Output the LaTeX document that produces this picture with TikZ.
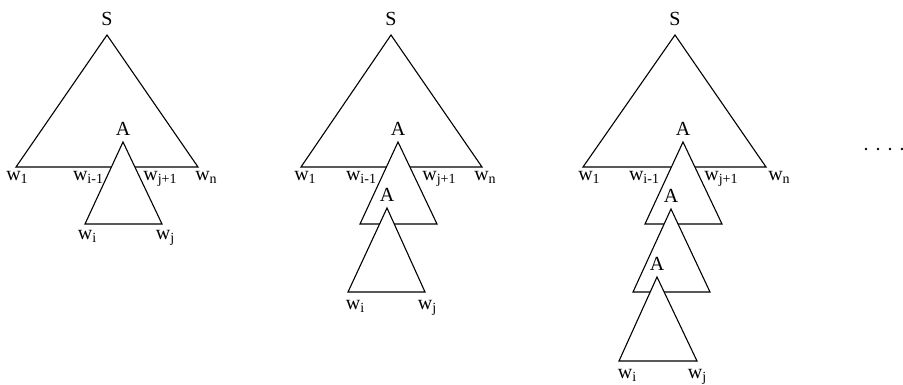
\documentclass[tikz,border=0pt]{standalone}
\usepackage{fontspec}
\setmainfont{Liberation Serif}
\usetikzlibrary{positioning}

\newcommand{\wsub}[1]{w\raisebox{-3pt}{\fontsize{14}{16}\selectfont #1}}

\begin{document}
\begin{tikzpicture}[
    x=1pt, y=-1pt,
    tri/.style={draw, line width=1.1pt, fill=white},
    lab/.style={font=\fontsize{20}{23}\selectfont, inner sep=0pt},
    wlab/.style={lab, anchor=base}
  ]
  \useasboundingbox (0,0) rectangle (903,385);

  % first tree: S with one A
  \coordinate (s1) at (107,35);
  \coordinate (s1l) at (16,167);
  \coordinate (s1r) at (198,167);
  \coordinate (a11) at (123,142);
  \coordinate (a11l) at (85,224);
  \coordinate (a11r) at (162,224);
  \draw[tri] (s1) -- (s1l) -- (s1r) -- cycle;
  \draw[tri] (a11) -- (a11l) -- (a11r) -- cycle;

  \node[lab, above=9pt of s1] (ls1) {S};
  \node[lab, above=6pt of a11] (la11) {A};
  \node[wlab] (w1a) at (17,181) {\wsub{1}};
  \node[wlab] (wim1a) at (88,181) {\wsub{i-1}};
  \node[wlab] (wjp1a) at (160,181) {\wsub{j+1}};
  \node[wlab] (wna) at (206,181) {\wsub{n}};
  \node[wlab] (wia) at (87,240) {\wsub{i}};
  \node[wlab] (wja) at (165,240) {\wsub{j}};

  % second tree: two A's
  \coordinate (s2) at (391,35);
  \coordinate (s2l) at (301,167);
  \coordinate (s2r) at (482,167);
  \coordinate (a21) at (398,142);
  \coordinate (a21l) at (360,224);
  \coordinate (a21r) at (437,224);
  \coordinate (a22) at (387,208);
  \coordinate (a22l) at (348,292);
  \coordinate (a22r) at (425,292);
  \draw[tri] (s2) -- (s2l) -- (s2r) -- cycle;
  \draw[tri] (a21) -- (a21l) -- (a21r) -- cycle;
  \draw[tri] (a22) -- (a22l) -- (a22r) -- cycle;

  \node[lab, above=9pt of s2] (ls2) {S};
  \node[lab, above=6pt of a21] (la21) {A};
  \node[lab, above=6pt of a22] (la22) {A};
  \node[wlab] (w1b) at (305,181) {\wsub{1}};
  \node[wlab] (wim1b) at (361,181) {\wsub{i-1}};
  \node[wlab] (wjp1b) at (439,181) {\wsub{j+1}};
  \node[wlab] (wnb) at (485,181) {\wsub{n}};
  \node[wlab] (wib) at (355,309) {\wsub{i}};
  \node[wlab] (wjb) at (427,309) {\wsub{j}};

  % third tree: three A's
  \coordinate (s3) at (675,35);
  \coordinate (s3l) at (583,167);
  \coordinate (s3r) at (766,167);
  \coordinate (a31) at (683,142);
  \coordinate (a31l) at (645,224);
  \coordinate (a31r) at (722,224);
  \coordinate (a32) at (671,209);
  \coordinate (a32l) at (633,292);
  \coordinate (a32r) at (710,292);
  \coordinate (a33) at (657,277);
  \coordinate (a33l) at (619,361);
  \coordinate (a33r) at (697,361);
  \draw[tri] (s3) -- (s3l) -- (s3r) -- cycle;
  \draw[tri] (a31) -- (a31l) -- (a31r) -- cycle;
  \draw[tri] (a32) -- (a32l) -- (a32r) -- cycle;
  \draw[tri] (a33) -- (a33l) -- (a33r) -- cycle;

  \node[lab, above=9pt of s3] (ls3) {S};
  \node[lab, above=6pt of a31] (la31) {A};
  \node[lab, above=6pt of a32] (la32) {A};
  \node[lab, above=6pt of a33] (la33) {A};
  \node[wlab] (w1c) at (589,181) {\wsub{1}};
  \node[wlab] (wim1c) at (644,181) {\wsub{i-1}};
  \node[wlab] (wjp1c) at (721,181) {\wsub{j+1}};
  \node[wlab] (wnc) at (779,181) {\wsub{n}};
  \node[wlab] (wic) at (627,378) {\wsub{i}};
  \node[wlab] (wjc) at (697,378) {\wsub{j}};

  % and so on
  \foreach \x in {866,878,890,902}
    \fill (\x,149) circle (1.3pt);
\end{tikzpicture}
\end{document}
